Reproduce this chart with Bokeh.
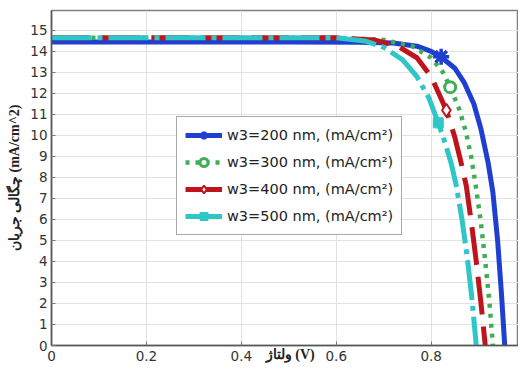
from bokeh.plotting import figure
from bokeh.models import Legend, LegendItem, Range1d, FixedTicker
from bokeh.embed import file_html
from bokeh.resources import INLINE

# ---- data ----
v_200 = [0, 0.5, 0.65, 0.72, 0.77, 0.80, 0.82, 0.85, 0.87, 0.89, 0.905, 0.92, 0.93, 0.94, 0.948, 0.955]
j_200 = [14.45, 14.45, 14.44, 14.40, 14.25, 14.0, 13.75, 13.2, 12.5, 11.5, 10.3, 8.7, 7.3, 5.0, 2.5, 0]

v_300 = [0, 0.6, 0.7, 0.76, 0.8, 0.825, 0.84, 0.86, 0.874, 0.885, 0.894, 0.905, 0.915, 0.923, 0.93]
j_300 = [14.65, 14.65, 14.55, 14.25, 13.7, 13.0, 12.3, 11.2, 10.1, 8.9, 7.6, 5.8, 3.8, 2.0, 0]

v_400 = [0, 0.6, 0.68, 0.73, 0.77, 0.80, 0.832, 0.85, 0.862, 0.874, 0.885, 0.895, 0.905, 0.914]
j_400 = [14.65, 14.65, 14.55, 14.25, 13.7, 12.8, 11.2, 9.9, 8.8, 7.6, 5.8, 4.0, 2.0, 0]

v_500 = [0, 0.6, 0.66, 0.7, 0.74, 0.77, 0.795, 0.815, 0.83, 0.843, 0.853, 0.865, 0.876, 0.886, 0.895]
j_500 = [14.65, 14.65, 14.5, 14.2, 13.6, 12.8, 11.8, 10.6, 9.6, 8.6, 7.6, 6.0, 4.2, 2.2, 0]

marker_v = [0.821, 0.84, 0.832, 0.815]
marker_j = [13.75, 12.3, 11.2, 10.6]

labels = ["w3=200 nm, (mA/cm\u00b2)", "w3=300 nm, (mA/cm\u00b2)",
          "w3=400 nm, (mA/cm\u00b2)", "w3=500 nm, (mA/cm\u00b2)"]
x_ticks = [0, 0.2, 0.4, 0.6, 0.8]
y_ticks = list(range(0, 16))
x_title = "ولتاژ (V)"
y_title = "چگالی جریان (mA/cm^2)"

BLUE = "#1f3fd0"
GREEN = "#3fae55"
RED = "#c0141c"
CYAN = "#2fc6c8"

p = figure(width=518, height=368, output_backend="svg", toolbar_location=None,
           x_range=Range1d(0, 0.984), y_range=Range1d(0, 15.95),
           min_border_left=51, min_border_right=0, min_border_top=10, min_border_bottom=23)

p.background_fill_color = "white"
p.outline_line_color = "#808080"
p.outline_line_width = 1.5

for ax in (p.xaxis[0], p.yaxis[0]):
    ax.major_label_text_font = "DejaVu Sans"
    ax.major_label_text_font_size = "13.5px"
    ax.major_label_text_color = "#333333"
    ax.axis_line_color = "#555555"
    ax.axis_line_width = 1.5
    ax.major_tick_in = 4
    ax.major_tick_out = 0
    ax.major_tick_line_color = "#777777"
    ax.minor_tick_line_color = None

p.xaxis[0].ticker = FixedTicker(ticks=x_ticks)
p.yaxis[0].ticker = FixedTicker(ticks=y_ticks)
p.xaxis[0].major_label_standoff = 5
p.yaxis[0].major_label_standoff = 4

p.yaxis[0].axis_label = y_title
p.yaxis[0].axis_label_text_font = "Liberation Serif"
p.yaxis[0].axis_label_text_font_style = "bold"
p.yaxis[0].axis_label_text_font_size = "14px"
p.yaxis[0].axis_label_text_color = "#222222"
p.yaxis[0].axis_label_standoff = 5

p.xaxis[0].axis_label = "\u00a0" * 3 + x_title
p.xaxis[0].axis_label_text_font = "Liberation Serif"
p.xaxis[0].axis_label_text_font_style = "bold"
p.xaxis[0].axis_label_text_font_size = "14px"
p.xaxis[0].axis_label_text_color = "#222222"
p.xaxis[0].axis_label_standoff = -17

p.xgrid.grid_line_color = "#e2e2e2"
p.ygrid.grid_line_color = "#e2e2e2"
p.xgrid.ticker = FixedTicker(ticks=x_ticks)
p.ygrid.ticker = FixedTicker(ticks=y_ticks)

r1 = p.line(v_200, j_200, line_color=BLUE, line_width=5)
r2 = p.line(v_300, j_300, line_color=GREEN, line_width=4.5, line_dash="4 6")
r3 = p.line(v_400, j_400, line_color=RED, line_width=5, line_dash="38 12")
r4 = p.line(v_500, j_500, line_color=CYAN, line_width=5, line_dash="40 6 5 6")

m1 = p.scatter([marker_v[0]], [marker_j[0]], marker="asterisk", size=16,
               line_color=BLUE, line_width=3.5)
m2 = p.scatter([marker_v[1]], [marker_j[1]], marker="circle", size=11,
               line_color=GREEN, line_width=3, fill_color="white")
m3 = p.scatter([marker_v[2]], [marker_j[2]], marker="diamond", size=13,
               line_color=RED, line_width=2, fill_color="white")
m4 = p.scatter([marker_v[3]], [marker_j[3]], marker="square", size=10,
               line_color=CYAN, line_width=1, fill_color=CYAN)

legend = Legend(items=[
    LegendItem(label=labels[0], renderers=[r1, m1]),
    LegendItem(label=labels[1], renderers=[r2, m2]),
    LegendItem(label=labels[2], renderers=[r3, m3]),
    LegendItem(label=labels[3], renderers=[r4, m4]),
], location=(125, 110))
legend.label_text_font = "DejaVu Sans"
legend.label_text_font_size = "14.5px"
legend.label_text_color = "#222222"
legend.glyph_width = 37
legend.glyph_height = 20
legend.label_height = 20
legend.spacing = 7
legend.padding = 8
legend.margin = 0
legend.label_standoff = 5
legend.border_line_color = "#555555"
legend.border_line_width = 1.5
legend.background_fill_color = "white"
legend.background_fill_alpha = 1.0
p.add_layout(legend, "center")

open("out.html", "w").write(file_html(p, INLINE))
